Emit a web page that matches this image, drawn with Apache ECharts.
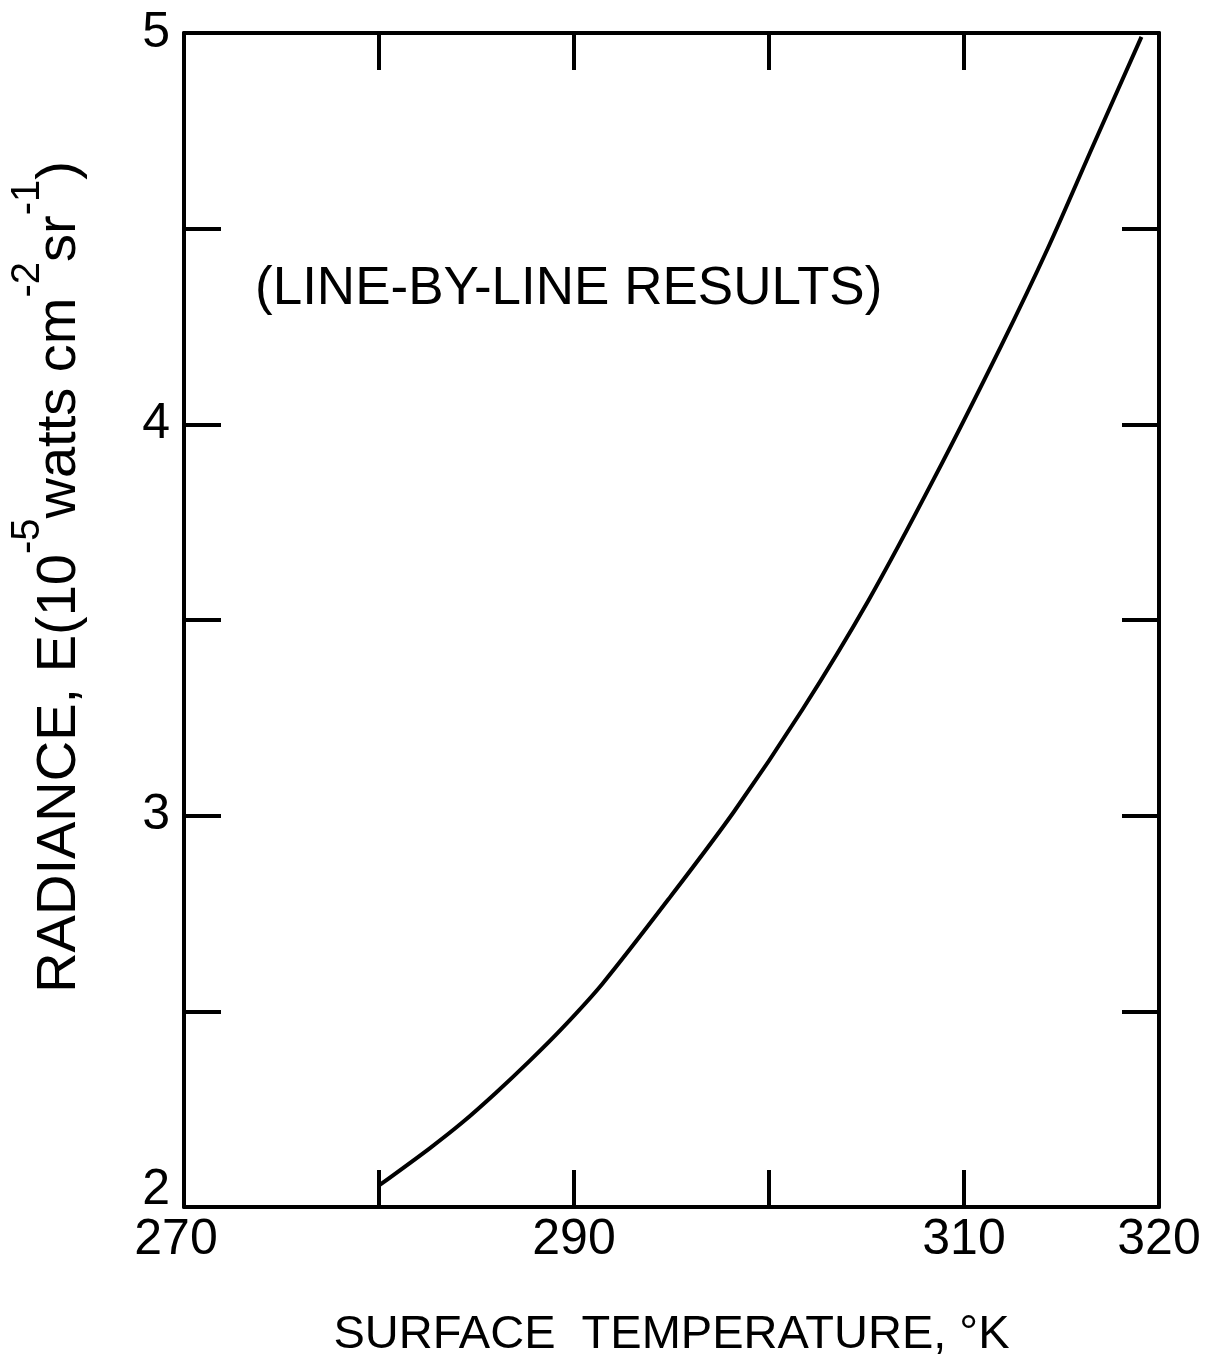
<!DOCTYPE html>
<html>
<head>
<meta charset="utf-8">
<script src="https://cdn.jsdelivr.net/npm/echarts@6/dist/echarts.min.js"></script>
<style>
html,body{margin:0;padding:0;background:#fff;}
#chart{width:1208px;height:1364px;}
</style>
</head>
<body>
<div id="chart"></div>
<script>
// ---- data ----
const temperatures = [280.0, 282.6, 284.3, 286.0, 287.7, 289.4, 291.45, 294.9, 298.2, 301.7, 305.1, 308.5, 311.9, 314.3, 316.6, 319.1];
const radiance     = [2.055, 2.15, 2.217, 2.292, 2.372, 2.457, 2.57, 2.79, 3.01, 3.27, 3.55, 3.865, 4.2, 4.45, 4.71, 4.99];
const xLabelValues = [270, 290, 310, 320];
const yLabelValues = [2, 3, 4, 5];
const annotation = '(LINE-BY-LINE RESULTS)';
const xTitle = 'SURFACE  TEMPERATURE, °K';

const FONT = "'Liberation Sans', Arial, sans-serif";
const BLACK = '#000';

const chart = echarts.init(document.getElementById('chart'), null, {renderer: 'canvas'});

const tickStyle = {show: true, inside: true, length: 37, lineStyle: {color: BLACK, width: 4}};
const lineStyle = {show: true, onZero: false, lineStyle: {color: BLACK, width: 4}};

const option = {
  backgroundColor: '#fff',
  animation: false,
  title: {
    text: annotation,
    left: 250,
    top: 258,
    textStyle: {fontFamily: FONT, fontSize: 53, fontWeight: 'normal', color: BLACK}
  },
  grid: {left: 180, right: 49, top: 33, bottom: 156, show: false},
  xAxis: [
    {
      type: 'value', position: 'bottom', min: 270, max: 320, interval: 10,
      axisLine: lineStyle, axisTick: tickStyle, splitLine: {show: false},
      axisLabel: {
        margin: 8, color: BLACK, fontFamily: FONT, fontSize: 50,
        formatter: v => xLabelValues.includes(v) ? (v === 270 ? '{l|' + v + '}' : String(v)) : '',
        rich: {l: {fontFamily: FONT, fontSize: 50, color: BLACK, padding: [0, 16, 0, 0]}}
      },
      name: xTitle, nameLocation: 'middle', nameGap: 105,
      nameTextStyle: {fontFamily: FONT, fontSize: 47, color: BLACK}
    },
    {
      type: 'value', position: 'top', min: 270, max: 320, interval: 10,
      axisLine: lineStyle, axisTick: tickStyle, splitLine: {show: false},
      axisLabel: {show: false}
    }
  ],
  yAxis: [
    {
      type: 'value', position: 'left', min: 2, max: 5, interval: 0.5,
      axisLine: lineStyle, axisTick: tickStyle, splitLine: {show: false},
      axisLabel: {
        margin: 14, color: BLACK, fontFamily: FONT, fontSize: 50,
        formatter: v => yLabelValues.includes(v) ? (v === 2 ? '{u|2}' : String(v)) : '',
        rich: {u: {fontFamily: FONT, fontSize: 50, color: BLACK, padding: [0, 0, 34, 0]}}
      },
      name: '{n|RADIANCE, E(10}{s|-5}{n|watts cm}{s|-2}{n|sr}{s|-1}{n|)}',
      nameLocation: 'middle', nameGap: 96, nameRotate: 90,
      nameTextStyle: {
        padding: [0, 0, 0, 86],
        rich: {
          n: {fontFamily: FONT, fontSize: 56, color: BLACK, lineHeight: 80, verticalAlign: 'bottom'},
          s: {fontFamily: FONT, fontSize: 40, color: BLACK, lineHeight: 80, verticalAlign: 'top'}
        }
      }
    },
    {
      type: 'value', position: 'right', min: 2, max: 5, interval: 0.5,
      axisLine: lineStyle, axisTick: tickStyle, splitLine: {show: false},
      axisLabel: {show: false}
    }
  ],
  series: [{
    type: 'line',
    data: temperatures.map((t, i) => [t, radiance[i]]),
    smooth: 0.3,
    showSymbol: false,
    lineStyle: {color: BLACK, width: 4},
    clip: true
  }]
};
chart.setOption(option);
</script>
</body>
</html>
